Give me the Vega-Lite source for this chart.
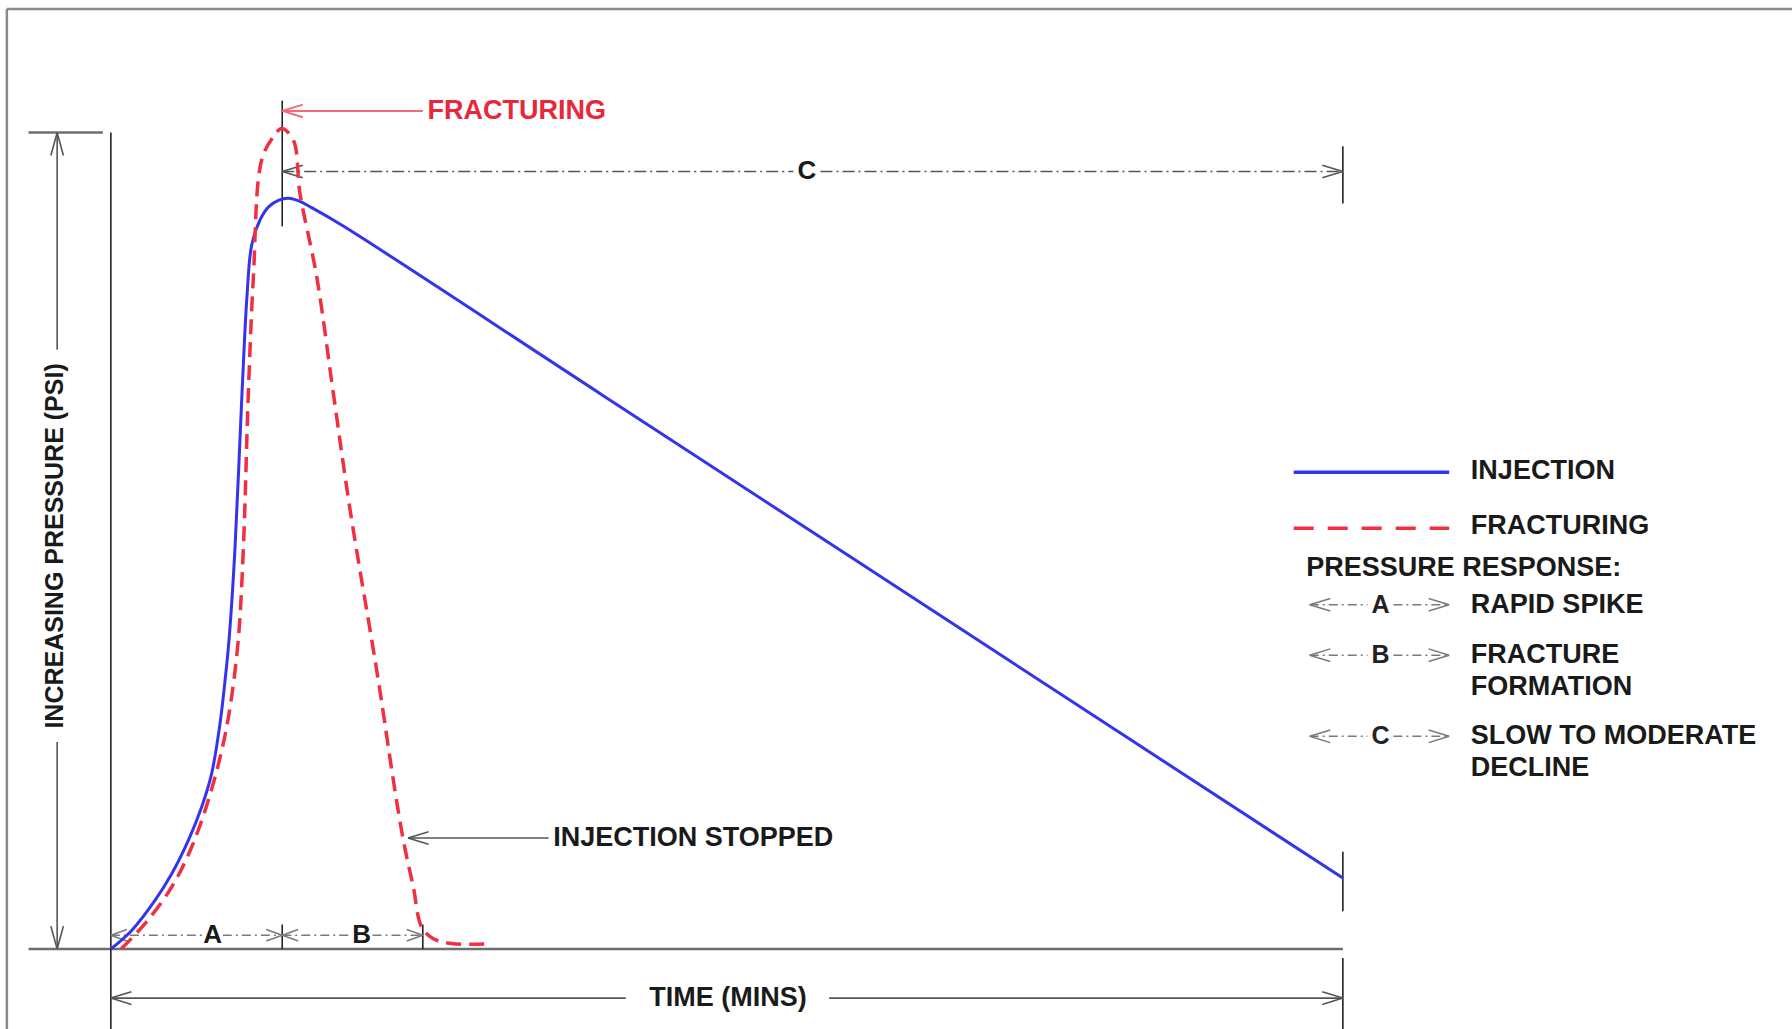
{
  "$schema": "https://vega.github.io/schema/vega-lite/v6.json",
  "width": 1792,
  "height": 1029,
  "padding": 0,
  "autosize": {"type": "fit", "contains": "padding"},
  "background": "white",
  "config": {"view": {"stroke": null}, "text": {"font": "Liberation Sans", "fontWeight": "bold"}},
  "encoding": {
    "x": {"field": "x", "type": "quantitative", "scale": {"domain": [-8.998, 136.456], "nice": false, "zero": false}, "axis": null},
    "y": {"field": "y", "type": "quantitative", "scale": {"domain": [-9.804, 116.246], "nice": false, "zero": false}, "axis": null}
  },
  "layer": [
    {
      "data": {"values": [
        {"x": -8.44, "y": 115.13, "x2": -8.44, "y2": -9.8},
        {"x": -8.44, "y": 115.13, "x2": 136.456, "y2": 115.13}
      ]},
      "mark": {"type": "rule", "color": "#8a8a8a", "strokeWidth": 2.5, "clip": true},
      "encoding": {"x2": {"field": "x2"}, "y2": {"field": "y2"}}
    },
    {
      "data": {"values": [
        {"x": -6.68, "y": 0, "x2": 100, "y2": 0},
        {"x": -6.68, "y": 100, "x2": -0.65, "y2": 100}
      ]},
      "mark": {"type": "rule", "color": "#6e6e6e", "strokeWidth": 2.5, "clip": true},
      "encoding": {"x2": {"field": "x2"}, "y2": {"field": "y2"}}
    },
    {
      "data": {"values": [
        {"x": 0, "y": 100, "x2": 0, "y2": -9.8},
        {"x": 13.91, "y": 103.92, "x2": 13.91, "y2": 88.52},
        {"x": 100, "y": 98.32, "x2": 100, "y2": 91.32},
        {"x": 100, "y": 11.9, "x2": 100, "y2": 4.62},
        {"x": 100, "y": -1.12, "x2": 100, "y2": -9.8},
        {"x": 13.91, "y": 0, "x2": 13.91, "y2": 3.0},
        {"x": 25.32, "y": 0, "x2": 25.32, "y2": 3.0}
      ]},
      "mark": {"type": "rule", "color": "#222222", "strokeWidth": 1.6, "clip": true},
      "encoding": {"x2": {"field": "x2"}, "y2": {"field": "y2"}}
    },
    {
      "data": {"values": [
        {"x": -4.36, "y": 100, "x2": -4.36, "y2": 73.39},
        {"x": -4.36, "y": 25.35, "x2": -4.36, "y2": 0},
        {"x": -4.36, "y": 100, "x2": -4.87, "y2": 97.2},
        {"x": -4.36, "y": 100, "x2": -3.85, "y2": 97.2},
        {"x": -4.36, "y": 0, "x2": -4.87, "y2": 2.8},
        {"x": -4.36, "y": 0, "x2": -3.85, "y2": 2.8},
        {"x": 0, "y": -6.02, "x2": 41.8, "y2": -6.02},
        {"x": 58.3, "y": -6.02, "x2": 100, "y2": -6.02},
        {"x": 0, "y": -6.02, "x2": 1.67, "y2": -5.25},
        {"x": 0, "y": -6.02, "x2": 1.67, "y2": -6.79},
        {"x": 100, "y": -6.02, "x2": 98.33, "y2": -5.25},
        {"x": 100, "y": -6.02, "x2": 98.33, "y2": -6.79},
        {"x": 24.12, "y": 13.59, "x2": 35.53, "y2": 13.59},
        {"x": 24.12, "y": 13.59, "x2": 25.79, "y2": 14.36},
        {"x": 24.12, "y": 13.59, "x2": 25.79, "y2": 12.82},
        {"x": 13.91, "y": 95.24, "x2": 15.58, "y2": 96.01},
        {"x": 13.91, "y": 95.24, "x2": 15.58, "y2": 94.47},
        {"x": 100, "y": 95.24, "x2": 98.33, "y2": 96.01},
        {"x": 100, "y": 95.24, "x2": 98.33, "y2": 94.47}
      ]},
      "mark": {"type": "rule", "color": "#555555", "strokeWidth": 1.6, "clip": true},
      "encoding": {"x2": {"field": "x2"}, "y2": {"field": "y2"}}
    },
    {
      "data": {"values": [
        {"x": 13.91, "y": 95.24, "x2": 55.4, "y2": 95.24},
        {"x": 57.6, "y": 95.24, "x2": 100, "y2": 95.24}
      ]},
      "mark": {"type": "rule", "color": "#555555", "strokeWidth": 1.6, "strokeDash": [12, 4, 2, 4], "clip": true},
      "encoding": {"x2": {"field": "x2"}, "y2": {"field": "y2"}}
    },
    {
      "data": {"values": [
        {"x": 0, "y": 1.68, "x2": 7.42, "y2": 1.68},
        {"x": 9.09, "y": 1.68, "x2": 13.91, "y2": 1.68},
        {"x": 13.91, "y": 1.68, "x2": 19.48, "y2": 1.68},
        {"x": 21.24, "y": 1.68, "x2": 25.32, "y2": 1.68},
        {"x": 97.31, "y": 42.16, "x2": 102.0, "y2": 42.16},
        {"x": 104.1, "y": 42.16, "x2": 108.63, "y2": 42.16},
        {"x": 97.31, "y": 35.99, "x2": 102.0, "y2": 35.99},
        {"x": 104.1, "y": 35.99, "x2": 108.63, "y2": 35.99},
        {"x": 97.31, "y": 26.05, "x2": 102.0, "y2": 26.05},
        {"x": 104.1, "y": 26.05, "x2": 108.63, "y2": 26.05}
      ]},
      "mark": {"type": "rule", "color": "#7a7a7a", "strokeWidth": 1.5, "strokeDash": [9, 4, 2, 4], "clip": true},
      "encoding": {"x2": {"field": "x2"}, "y2": {"field": "y2"}}
    },
    {
      "data": {"values": [
        {"x": 0, "y": 1.68, "x2": 1.3, "y2": 2.38},
        {"x": 0, "y": 1.68, "x2": 1.3, "y2": 0.98},
        {"x": 13.91, "y": 1.68, "x2": 12.61, "y2": 2.38},
        {"x": 13.91, "y": 1.68, "x2": 12.61, "y2": 0.98},
        {"x": 13.91, "y": 1.68, "x2": 15.21, "y2": 2.38},
        {"x": 13.91, "y": 1.68, "x2": 15.21, "y2": 0.98},
        {"x": 25.32, "y": 1.68, "x2": 24.02, "y2": 2.38},
        {"x": 25.32, "y": 1.68, "x2": 24.02, "y2": 0.98},
        {"x": 97.31, "y": 42.16, "x2": 98.98, "y2": 42.93},
        {"x": 97.31, "y": 42.16, "x2": 98.98, "y2": 41.39},
        {"x": 108.63, "y": 42.16, "x2": 106.96, "y2": 42.93},
        {"x": 108.63, "y": 42.16, "x2": 106.96, "y2": 41.39},
        {"x": 97.31, "y": 35.99, "x2": 98.98, "y2": 36.76},
        {"x": 97.31, "y": 35.99, "x2": 98.98, "y2": 35.22},
        {"x": 108.63, "y": 35.99, "x2": 106.96, "y2": 36.76},
        {"x": 108.63, "y": 35.99, "x2": 106.96, "y2": 35.22},
        {"x": 97.31, "y": 26.05, "x2": 98.98, "y2": 26.82},
        {"x": 97.31, "y": 26.05, "x2": 98.98, "y2": 25.28},
        {"x": 108.63, "y": 26.05, "x2": 106.96, "y2": 26.82},
        {"x": 108.63, "y": 26.05, "x2": 106.96, "y2": 25.28}
      ]},
      "mark": {"type": "rule", "color": "#7a7a7a", "strokeWidth": 1.5, "clip": true},
      "encoding": {"x2": {"field": "x2"}, "y2": {"field": "y2"}}
    },
    {
      "data": {"values": [
        {"x": 13.91, "y": 102.66, "x2": 25.32, "y2": 102.66},
        {"x": 13.91, "y": 102.66, "x2": 15.58, "y2": 103.43},
        {"x": 13.91, "y": 102.66, "x2": 15.58, "y2": 101.89}
      ]},
      "mark": {"type": "rule", "color": "#f06a78", "strokeWidth": 2, "clip": true},
      "encoding": {"x2": {"field": "x2"}, "y2": {"field": "y2"}}
    },
    {
      "data": {"values": [
        {"x": 0, "y": 0},
        {"x": 1.69, "y": 2.27},
        {"x": 3.58, "y": 5.95},
        {"x": 4.94, "y": 9.22},
        {"x": 6.29, "y": 13.31},
        {"x": 7.37, "y": 17.39},
        {"x": 8.18, "y": 21.48},
        {"x": 8.86, "y": 27.61},
        {"x": 9.27, "y": 32.91},
        {"x": 9.59, "y": 37.82},
        {"x": 10.07, "y": 48.88},
        {"x": 10.62, "y": 67.23},
        {"x": 11.05, "y": 80.0},
        {"x": 11.43, "y": 86.2},
        {"x": 12.11, "y": 89.3},
        {"x": 12.8, "y": 90.9},
        {"x": 13.6, "y": 91.7},
        {"x": 14.41, "y": 91.95},
        {"x": 15.3, "y": 91.6},
        {"x": 16.17, "y": 90.92},
        {"x": 18.83, "y": 88.59},
        {"x": 40, "y": 67.75},
        {"x": 70, "y": 38.21},
        {"x": 100, "y": 8.68}
      ]},
      "mark": {"type": "line", "color": "#3434ee", "strokeWidth": 3, "interpolate": "catmull-rom", "clip": true},
      "encoding": {}
    },
    {
      "data": {"values": [
        {"x": 0.83, "y": 0},
        {"x": 2.77, "y": 3.1},
        {"x": 4.94, "y": 7.59},
        {"x": 6.56, "y": 12.49},
        {"x": 7.91, "y": 18.21},
        {"x": 9.0, "y": 24.33},
        {"x": 9.68, "y": 29.65},
        {"x": 10.34, "y": 37.82},
        {"x": 10.75, "y": 48.88},
        {"x": 11.16, "y": 68.07},
        {"x": 11.57, "y": 82.35},
        {"x": 12.24, "y": 96.64},
        {"x": 13.19, "y": 99.5},
        {"x": 13.87, "y": 100.5},
        {"x": 14.81, "y": 99.09},
        {"x": 15.35, "y": 92.55},
        {"x": 16.71, "y": 82.34},
        {"x": 18.06, "y": 68.04},
        {"x": 19.42, "y": 53.78},
        {"x": 21.71, "y": 32.91},
        {"x": 22.93, "y": 20.66},
        {"x": 23.74, "y": 13.31},
        {"x": 24.55, "y": 7.59},
        {"x": 25.23, "y": 2.69},
        {"x": 26.18, "y": 1.26},
        {"x": 27.8, "y": 0.64},
        {"x": 30.64, "y": 0.64}
      ]},
      "mark": {"type": "line", "color": "#f03040", "strokeWidth": 3.5, "strokeDash": [15, 8], "interpolate": "catmull-rom", "clip": true},
      "encoding": {}
    },
    {
      "data": {"values": [
        {"x": 96.01, "y": 58.4},
        {"x": 108.63, "y": 58.4}
      ]},
      "mark": {"type": "line", "color": "#3434ee", "strokeWidth": 3.5},
      "encoding": {}
    },
    {
      "data": {"values": [
        {"x": 96.01, "y": 51.54},
        {"x": 108.63, "y": 51.54}
      ]},
      "mark": {"type": "line", "color": "#f03040", "strokeWidth": 3.5, "strokeDash": [20, 14]},
      "encoding": {}
    },
    {
      "data": {"values": [
        {"x": 35.9, "y": 13.59, "label": "INJECTION STOPPED"},
        {"x": 110.39, "y": 58.54, "label": "INJECTION"},
        {"x": 110.39, "y": 51.82, "label": "FRACTURING"},
        {"x": 97.03, "y": 46.64, "label": "PRESSURE RESPONSE:"},
        {"x": 110.39, "y": 42.16, "label": "RAPID SPIKE"},
        {"x": 110.39, "y": 35.99, "label": "FRACTURE"},
        {"x": 110.39, "y": 32.07, "label": "FORMATION"},
        {"x": 110.39, "y": 26.05, "label": "SLOW TO MODERATE"},
        {"x": 110.39, "y": 22.13, "label": "DECLINE"}
      ]},
      "mark": {"type": "text", "align": "left", "baseline": "middle", "fontSize": 27, "color": "#1a1a1a"},
      "encoding": {"text": {"field": "label"}}
    },
    {
      "data": {"values": [
        {"x": 50.09, "y": -6.02, "label": "TIME (MINS)"}
      ]},
      "mark": {"type": "text", "align": "center", "baseline": "middle", "fontSize": 27, "color": "#1a1a1a"},
      "encoding": {"text": {"field": "label"}}
    },
    {
      "data": {"values": [
        {"x": 8.26, "y": 1.68, "label": "A"},
        {"x": 20.36, "y": 1.68, "label": "B"},
        {"x": 56.49, "y": 95.24, "label": "C"}
      ]},
      "mark": {"type": "text", "align": "center", "baseline": "middle", "fontSize": 26, "color": "#1a1a1a"},
      "encoding": {"text": {"field": "label"}}
    },
    {
      "data": {"values": [
        {"x": 103.06, "y": 42.16, "label": "A"},
        {"x": 103.06, "y": 35.99, "label": "B"},
        {"x": 103.06, "y": 26.05, "label": "C"}
      ]},
      "mark": {"type": "text", "align": "center", "baseline": "middle", "fontSize": 25, "color": "#222222"},
      "encoding": {"text": {"field": "label"}}
    },
    {
      "data": {"values": [
        {"x": 25.7, "y": 102.66, "label": "FRACTURING"}
      ]},
      "mark": {"type": "text", "align": "left", "baseline": "middle", "fontSize": 27, "color": "#e8283a"},
      "encoding": {"text": {"field": "label"}}
    },
    {
      "data": {"values": [
        {"x": -4.5, "y": 49.37, "label": "INCREASING PRESSURE (PSI)"}
      ]},
      "mark": {"type": "text", "align": "center", "baseline": "middle", "angle": 270, "fontSize": 25, "color": "#1a1a1a"},
      "encoding": {"text": {"field": "label"}}
    }
  ]
}
